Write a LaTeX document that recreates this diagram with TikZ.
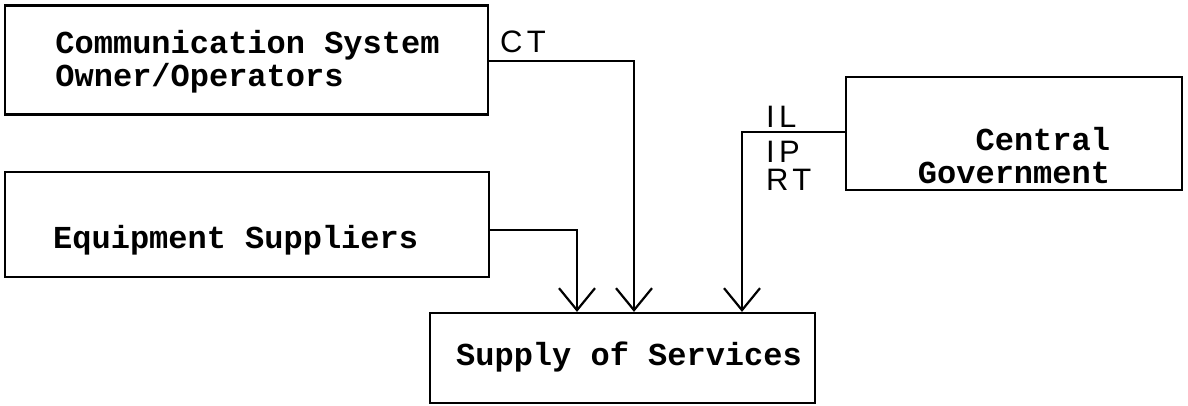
\documentclass[tikz,border=0pt]{standalone}
\usepackage{fontspec}
\setmonofont{Liberation Mono}
\newfontfamily\handfont{Liberation Sans}[LetterSpace=14]
\usetikzlibrary{arrows.meta}
\tikzset{
  box/.style={draw, line width=2.2pt, inner sep=0pt},
  boxtext/.style={font=\ttfamily\bfseries\fontsize{32}{33}\selectfont, inner sep=0pt},
  flow/.style={line width=2pt, -{Straight Barb[length=22pt,width=36pt,line width=2.2pt]}},
  hand/.style={font=\handfont\fontsize{31}{32}\selectfont, inner sep=0pt}
}
\begin{document}
\begin{tikzpicture}[x=1pt,y=-1pt]
  \useasboundingbox (0,0) rectangle (1188,406);

  % boxes
  \node[box, minimum width=483pt, minimum height=109pt] (comm) at (246.5,60) {};
  \node[box, minimum width=484pt, minimum height=105pt] (equip) at (247,224.5) {};
  \node[box, minimum width=336pt, minimum height=113pt] (gov) at (1014,133.5) {};
  \node[box, minimum width=385pt, minimum height=90pt] (supply) at (622.5,358) {};

  % box captions
  \node[boxtext, align=left] (commtext) at (247.5,61.5) {Communication System\\Owner/Operators};
  \node[boxtext, anchor=west] (equiptext) at (53,240) {Equipment Suppliers};
  \node[boxtext, align=right] (govtext) at (1014,155.5) {Central\\Government};
  \node[boxtext] (supplytext) at (629,357) {Supply of Services};

  % connectors into the supply box
  \coordinate (ctturn) at (634,61);
  \coordinate (eqturn) at (577,230);
  \coordinate (govturn) at (742,132);
  \draw[flow] (comm.east |- ctturn) -- (ctturn) -- (supply.north -| ctturn);
  \draw[flow] (equip.east |- eqturn) -- (eqturn) -- (supply.north -| eqturn);
  \draw[flow] (gov.west |- govturn) -- (govturn) -- (supply.north -| govturn);

  % handwritten flow labels
  \node[hand, anchor=west] (ct) at (500,42) {CT};
  \node[hand, anchor=west] (il) at (766,117) {IL};
  \node[hand, anchor=west] (ip) at (766,152) {IP};
  \node[hand, anchor=west] (rt) at (766,180) {RT};
\end{tikzpicture}
\end{document}
